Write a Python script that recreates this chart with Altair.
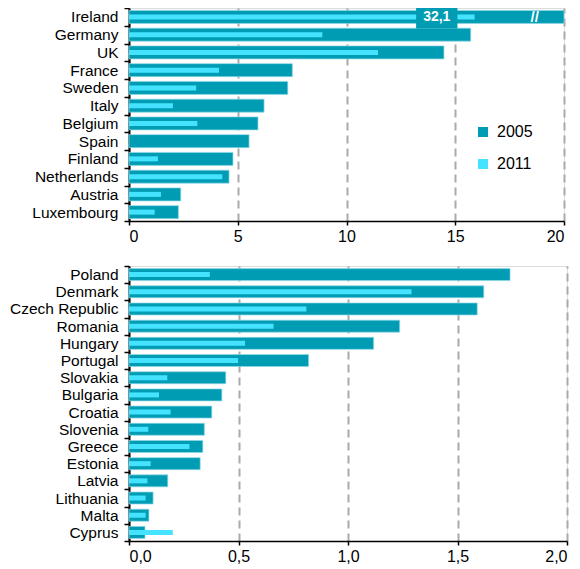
import altair as alt
import pandas as pd

top_countries = ["Ireland", "Germany", "UK", "France", "Sweden", "Italy", "Belgium",
                 "Spain", "Finland", "Netherlands", "Austria", "Luxembourg"]
top_2005 = [32.1, 15.71, 14.48, 7.51, 7.30, 6.21, 5.93, 5.52, 4.78, 4.60, 2.38, 2.27]
top_2011 = [15.89, 8.89, 11.45, 4.14, 3.09, 2.02, 3.14, None, 1.33, 4.29, 1.47, 1.18]

bottom_countries = ["Poland", "Denmark", "Czech Republic", "Romania", "Hungary", "Portugal",
                    "Slovakia", "Bulgaria", "Croatia", "Slovenia", "Greece", "Estonia",
                    "Latvia", "Lithuania", "Malta", "Cyprus"]
bottom_2005 = [1.74, 1.62, 1.59, 1.236, 1.117, 0.82, 0.442, 0.424, 0.378, 0.344, 0.337,
               0.325, 0.177, 0.11, 0.091, 0.073]
bottom_2011 = [0.369, 1.29, 0.81, 0.66, 0.53, 0.498, 0.175, 0.137, 0.19, 0.088, 0.276,
               0.099, 0.084, 0.076, 0.076, 0.2]

years = ["2005", "2011"]
year_colors = ["#009CB4", "#45E3FF"]
top_ticks = [0, 5, 10, 15, 20]
bottom_ticks = [0, 0.5, 1.0, 1.5, 2.0]

FONT = "Liberation Sans"


def long_df(countries, v05, v11):
    rows = []
    for c, a, b in zip(countries, v05, v11):
        if a is not None:
            rows.append({"country": c, "year": "2005", "value": a})
        if b is not None:
            rows.append({"country": c, "year": "2011", "value": b})
    return pd.DataFrame(rows)


def panel(countries, v05, v11, ticks, xmax, dark_size, light_size, label_expr, legend):
    df = long_df(countries, v05, v11)
    x = alt.X("value:Q",
              scale=alt.Scale(domain=[0, xmax], clamp=True, nice=False, zero=True),
              axis=alt.Axis(values=ticks, labelExpr=label_expr, grid=True,
                            gridDash=[8, 5], gridColor="#AAAAAA", gridWidth=2,
                            domainColor="black", domainWidth=1.5, tickColor="black",
                            tickSize=4, tickWidth=1.5, labelFontSize=16, labelColor="black",
                            labelPadding=3, title=None, labelFont=FONT))
    y = alt.Y("country:N", sort=countries,
              scale=alt.Scale(type="band", paddingInner=0, paddingOuter=0),
              axis=alt.Axis(tickBand="extent", title=None, labelFontSize=15.5,
                            labelColor="black", domainColor="black", domainWidth=2,
                            tickColor="black", tickSize=5, tickWidth=1.5, labelPadding=6,
                            grid=False, labelFont=FONT))
    color = alt.Color("year:N", scale=alt.Scale(domain=years, range=year_colors),
                      legend=legend)
    base = alt.Chart(df)
    dark = base.transform_filter(alt.datum.year == "2005").mark_bar(
        size=dark_size, stroke="#8FD9E6", strokeWidth=0.7).encode(x=x, y=y, color=color)
    light = base.transform_filter(alt.datum.year == "2011").mark_bar(
        size=light_size).encode(x=x, y=y, color=color)
    return [dark, light]


top_legend = alt.Legend(orient="none", legendX=346, legendY=116, title=None,
                        symbolType="square", symbolSize=100, symbolStrokeWidth=0,
                        labelFontSize=16, labelColor="black", rowPadding=16,
                        labelOffset=6, padding=0, labelFont=FONT)

top_layers = panel(top_countries, top_2005, top_2011, top_ticks, 20, 13, 5,
                   "datum.value", top_legend)

# annotation for the broken Ireland bar
ireland_label = f"{top_2005[0]:.1f}".replace(".", ",")
box_df = pd.DataFrame({"country": [top_countries[0]], "x0": [13.2], "x1": [15.1],
                       "xm": [14.15], "label": [ireland_label], "xb": [18.65]})
box = alt.Chart(box_df).mark_bar(height=23, color=year_colors[0]).encode(
    x=alt.X("x0:Q"), x2="x1:Q", y=alt.Y("country:N", sort=top_countries))
box_text = alt.Chart(box_df).mark_text(color="white", fontWeight="bold", fontSize=14,
                                       font=FONT).encode(
    x="xm:Q", y=alt.Y("country:N", sort=top_countries), text="label:N")
brk = alt.Chart(box_df).mark_text(text="//", color="white", fontWeight="bold", fontSize=15,
                                  font=FONT).encode(
    x="xb:Q", y=alt.Y("country:N", sort=top_countries))

top = alt.layer(*top_layers, box, box_text, brk).properties(width=435, height=213)

bottom_layers = panel(bottom_countries, bottom_2005, bottom_2011, bottom_ticks, 2.0, 12, 5,
                      "replace(format(datum.value, '.1f'), '.', ',')", None)
bottom = alt.layer(*bottom_layers).properties(width=438, height=275)

chart = alt.vconcat(top, bottom, spacing=13).resolve_scale(color="independent").properties(
    padding={"left": 0, "top": -8, "right": 0, "bottom": 0}
).configure_view(stroke="#999999", strokeWidth=2).configure(font=FONT)

chart.save("out.html", embed_options={"renderer": "svg", "actions": False})
